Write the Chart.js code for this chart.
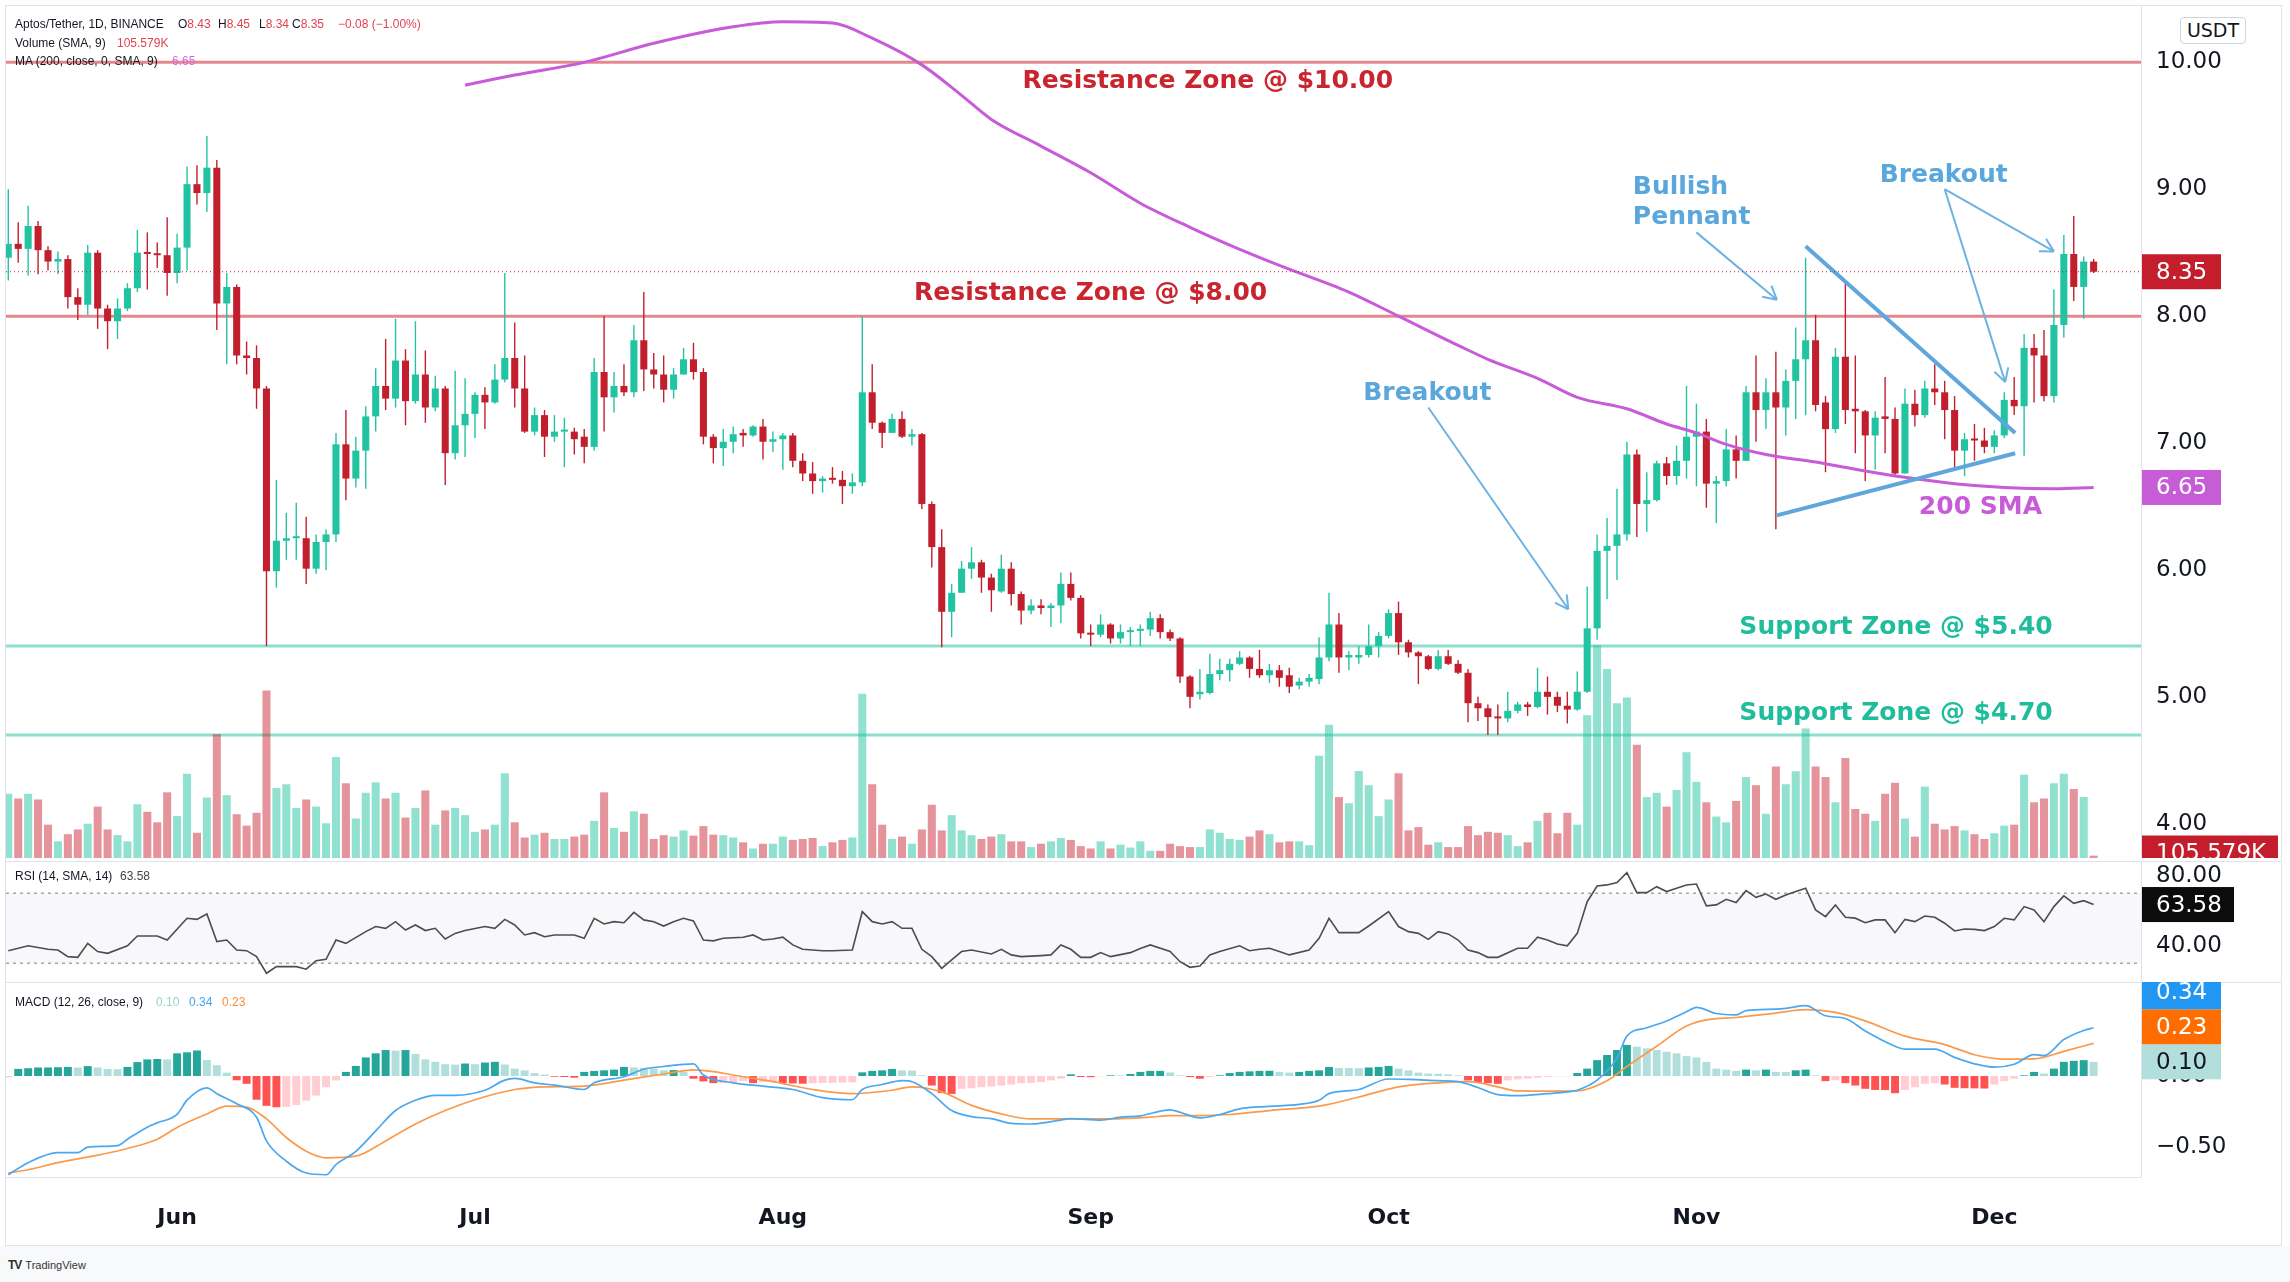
<!DOCTYPE html>
<html>
<head>
<meta charset="utf-8">
<script src="https://cdn.jsdelivr.net/npm/chart.js@4.4.0/dist/chart.umd.min.js"></script>
<style>
  html, body { margin: 0; padding: 0; background: #fff; }
  body { width: 2290px; height: 1282px; position: relative; overflow: hidden; font-family: "Liberation Sans", Arial, sans-serif; color: #131722; }
  .frame { position: absolute; left: 5px; top: 5px; width: 2277px; height: 1241px; border: 1px solid #e0e3eb; box-sizing: border-box; }
  canvas { position: absolute; left: 6px; }
  #price { top: 6px; }
  #rsi { top: 862px; }
  #macd { top: 982px; }
  .sep { position: absolute; left: 6px; width: 2275px; height: 1px; background: #e0e3eb; }
  .t { position: absolute; font-size: 12px; line-height: 14px; white-space: pre; }
  .dn { color: #e2434f; }
  .usdt { position: absolute; left: 2180px; top: 17px; width: 64px; height: 25px; border: 1px solid #d1d4dc; border-radius: 4px; background: #fff; font: 19px "DejaVu Sans", sans-serif; text-align: center; line-height: 25px; }
  .foot { position: absolute; left: 0; top: 1246px; width: 2290px; height: 36px; background: #f8f9fb; }
  .logo { position: absolute; left: 8px; top: 1258px; font-size: 11px; color: #333; }
  .logo b { font-size: 12px; letter-spacing: -1px; margin-right: 4px; }
</style>
</head>
<body>
<div class="frame"></div>
<canvas id="price" width="2275" height="852"></canvas>
<div class="sep" style="top:861px"></div>
<canvas id="rsi" width="2275" height="120"></canvas>
<div class="sep" style="top:982px"></div>
<canvas id="macd" width="2275" height="263"></canvas>
<div class="foot"></div>
<div class="logo"><b>TV</b>TradingView</div>

<div class="t" style="left:15px;top:17px">Aptos/Tether, 1D, BINANCE</div>
<div class="t" style="left:178px;top:17px">O<span class="dn">8.43</span></div>
<div class="t" style="left:218px;top:17px">H<span class="dn">8.45</span></div>
<div class="t" style="left:259px;top:17px">L<span class="dn">8.34</span></div>
<div class="t" style="left:292px;top:17px">C<span class="dn">8.35</span></div>
<div class="t dn" style="left:338px;top:17px">−0.08 (−1.00%)</div>
<div class="t" style="left:15px;top:36px">Volume (SMA, 9)</div>
<div class="t dn" style="left:117px;top:36px">105.579K</div>
<div class="t" style="left:15px;top:54px">MA (200, close, 0, SMA, 9)</div>
<div class="t" style="left:172px;top:54px;color:#d169e0">6.65</div>
<div class="usdt">USDT</div>
<div class="t" style="left:15px;top:869px">RSI (14, SMA, 14)</div>
<div class="t" style="left:120px;top:869px;color:#444">63.58</div>
<div class="t" style="left:15px;top:995px">MACD (12, 26, close, 9)</div>
<div class="t" style="left:156px;top:995px;color:#8fd8cb">0.10</div>
<div class="t" style="left:189px;top:995px;color:#42a5f5">0.34</div>
<div class="t" style="left:222px;top:995px;color:#ff8a3d">0.23</div>

<script>
// APT/USDT daily, 15 May -> 11 Dec
const monthLabels = ['Jun', 'Jul', 'Aug', 'Sep', 'Oct', 'Nov', 'Dec'];
const monthIdx = [17, 47, 78, 109, 139, 170, 200];

const open = [8.46,8.57,8.53,8.71,8.52,8.43,8.45,8.15,8.09,8.50,
  8.06,7.96,8.06,8.22,8.50,8.49,8.48,8.34,8.54,9.04,
  8.97,9.17,8.10,8.23,7.69,7.67,7.43,5.99,6.23,6.25,
  6.25,6.01,6.22,6.28,6.99,6.72,6.94,7.21,7.45,7.35,
  7.65,7.33,7.54,7.28,7.43,6.92,7.14,7.23,7.38,7.32,
  7.50,7.67,7.43,7.09,7.22,7.05,7.09,7.09,7.05,6.97,
  7.56,7.36,7.45,7.40,7.81,7.58,7.54,7.42,7.54,7.66,
  7.56,7.05,6.96,7.01,7.08,7.06,7.13,7.01,7.03,7.06,
  6.86,6.76,6.70,6.72,6.71,6.66,6.69,7.40,7.16,7.08,
  7.19,7.05,7.07,6.52,6.18,5.67,5.82,6.01,6.06,5.94,
  5.83,6.01,5.81,5.68,5.72,5.70,5.72,5.89,5.78,5.50,
  5.49,5.57,5.46,5.51,5.52,5.53,5.62,5.51,5.46,5.16,
  5.02,5.03,5.18,5.21,5.26,5.31,5.22,5.17,5.21,5.17,
  5.09,5.12,5.14,5.31,5.57,5.31,5.31,5.33,5.40,5.48,
  5.66,5.43,5.35,5.32,5.22,5.32,5.26,5.19,4.95,4.91,
  4.84,4.83,4.89,4.94,4.92,5.04,5.00,4.93,4.90,5.04,
  5.54,6.15,6.19,6.28,6.91,6.52,6.55,6.84,6.74,6.86,
  7.05,7.09,6.68,6.70,6.95,6.86,7.40,7.26,7.40,7.28,
  7.49,7.66,7.81,7.32,7.11,7.68,7.27,7.25,7.06,7.21,
  7.19,6.76,7.31,7.22,7.43,7.40,7.26,6.94,7.03,7.02,
  6.97,7.06,7.34,7.29,7.75,7.69,7.37,7.93,8.49,8.23,
  8.43];
const high = [9.00,8.74,8.87,8.75,8.55,8.51,8.48,8.22,8.56,8.52,
  8.09,8.14,8.26,8.68,8.66,8.58,8.78,8.65,9.18,9.19,
  9.42,9.23,8.34,8.25,7.80,7.77,7.45,6.71,6.45,6.53,
  6.42,6.28,6.32,7.08,7.26,7.05,7.29,7.59,7.82,7.98,
  7.74,7.96,7.73,7.53,7.45,7.57,7.51,7.40,7.44,7.62,
  8.34,7.95,7.69,7.28,7.26,7.22,7.20,7.12,7.11,7.67,
  8.00,7.56,7.62,7.93,8.19,7.71,7.69,7.59,7.75,7.79,
  7.59,7.07,7.11,7.13,7.11,7.14,7.19,7.09,7.08,7.08,
  6.92,6.85,6.74,6.81,6.78,6.76,8.00,7.62,7.17,7.23,
  7.25,7.11,7.08,6.54,6.32,5.89,6.07,6.18,6.08,5.97,
  6.12,6.06,5.83,5.77,5.77,5.74,5.98,5.98,5.80,5.57,
  5.65,5.58,5.57,5.55,5.57,5.67,5.65,5.53,5.47,5.17,
  5.22,5.34,5.30,5.30,5.36,5.32,5.37,5.26,5.25,5.23,
  5.15,5.18,5.47,5.82,5.66,5.36,5.40,5.57,5.51,5.69,
  5.75,5.45,5.36,5.33,5.37,5.37,5.29,5.22,5.00,4.94,
  4.94,5.04,4.96,4.96,5.23,5.16,5.04,5.04,5.20,5.87,
  6.28,6.41,6.64,7.01,6.95,6.77,6.86,6.89,6.98,7.45,
  7.31,7.19,6.74,7.11,7.06,7.45,7.69,7.51,7.72,7.58,
  7.91,8.46,8.01,7.37,7.75,8.26,7.69,7.26,7.25,7.52,
  7.28,7.43,7.42,7.49,7.62,7.49,7.37,7.08,7.15,7.12,
  7.10,7.40,7.52,7.86,7.86,7.89,8.21,8.64,8.79,8.47,
  8.45];
const low = [8.28,8.42,8.32,8.33,8.36,8.33,8.06,7.97,8.01,7.90,
  7.74,7.82,8.04,8.19,8.21,8.38,8.16,8.26,8.36,8.88,
  8.82,7.89,7.62,7.62,7.54,7.27,5.40,5.86,6.08,6.08,
  5.89,5.97,6.00,6.22,6.55,6.65,6.64,7.09,7.26,7.28,
  7.14,7.31,7.16,7.25,6.67,6.87,6.89,7.04,7.11,7.31,
  7.48,7.28,7.08,7.06,6.89,7.01,6.81,6.91,6.84,6.94,
  7.09,7.24,7.37,7.36,7.41,7.43,7.32,7.35,7.54,7.50,
  6.99,6.84,6.82,6.92,6.97,7.05,6.87,6.93,6.79,6.81,
  6.70,6.60,6.61,6.68,6.52,6.60,6.66,7.11,6.96,7.08,
  7.04,6.98,6.48,6.02,5.39,5.47,5.82,5.93,5.82,5.67,
  5.82,5.72,5.57,5.65,5.65,5.55,5.58,5.76,5.46,5.40,
  5.47,5.42,5.42,5.40,5.40,5.48,5.46,5.44,5.11,4.91,
  4.98,5.02,5.13,5.12,5.25,5.15,5.15,5.11,5.08,5.03,
  5.06,5.08,5.10,5.28,5.19,5.21,5.26,5.31,5.31,5.46,
  5.33,5.31,5.10,5.21,5.21,5.25,5.18,4.80,4.81,4.70,
  4.70,4.80,4.87,4.85,4.91,4.86,4.88,4.79,4.89,5.03,
  5.45,5.77,5.92,6.23,6.26,6.30,6.54,6.67,6.67,6.72,
  6.66,6.49,6.37,6.66,6.72,6.86,7.01,7.11,6.32,7.06,
  7.19,7.22,7.25,6.77,7.08,7.15,6.92,6.70,6.79,6.92,
  6.74,6.76,7.13,7.20,7.30,7.03,6.81,6.74,6.86,6.92,
  6.92,7.04,7.22,6.90,7.32,7.33,7.32,7.83,8.12,7.98,
  8.34];
const close = [8.57,8.53,8.71,8.52,8.43,8.45,8.15,8.09,8.50,8.06,
  7.96,8.06,8.22,8.50,8.49,8.48,8.34,8.54,9.04,8.97,
  9.17,8.10,8.23,7.69,7.67,7.43,5.99,6.23,6.25,6.26,
  6.01,6.22,6.28,6.99,6.72,6.94,7.21,7.45,7.35,7.65,
  7.33,7.54,7.28,7.43,6.92,7.14,7.23,7.38,7.32,7.50,
  7.67,7.43,7.09,7.22,7.05,7.09,7.09,7.03,6.97,7.56,
  7.36,7.45,7.40,7.81,7.58,7.54,7.42,7.54,7.66,7.56,
  7.05,6.96,7.01,7.07,7.06,7.13,7.01,7.03,7.06,6.86,
  6.76,6.70,6.72,6.71,6.66,6.69,7.40,7.16,7.08,7.19,
  7.05,7.07,6.52,6.18,5.67,5.82,6.01,6.06,5.94,5.84,
  6.01,5.81,5.68,5.72,5.70,5.72,5.89,5.78,5.50,5.49,
  5.57,5.46,5.51,5.52,5.53,5.62,5.51,5.46,5.16,5.00,
  5.04,5.18,5.21,5.26,5.31,5.22,5.17,5.21,5.15,5.08,
  5.12,5.15,5.31,5.57,5.31,5.33,5.33,5.40,5.48,5.66,
  5.43,5.35,5.32,5.22,5.32,5.26,5.19,4.95,4.91,4.84,
  4.83,4.89,4.94,4.92,5.04,5.00,4.93,4.90,5.04,5.54,
  6.15,6.19,6.28,6.91,6.52,6.55,6.84,6.74,6.86,7.05,
  7.09,6.68,6.70,6.95,6.86,7.40,7.26,7.40,7.28,7.49,
  7.66,7.81,7.30,7.11,7.68,7.26,7.25,7.06,7.20,7.19,
  6.76,7.31,7.22,7.43,7.40,7.26,6.94,7.03,7.02,6.97,
  7.06,7.34,7.29,7.75,7.69,7.37,7.93,8.49,8.23,8.43,
  8.35];
const volume = [135,125,135,123,70,35,50,60,72,108,
  60,48,35,113,97,75,138,88,177,53,
  127,260,132,92,68,95,352,147,155,105,
  123,108,73,212,157,83,137,159,125,137,
  85,105,142,70,100,105,90,55,60,70,
  178,75,43,49,53,40,40,45,49,78,
  138,63,55,98,93,40,48,45,58,47,
  67,49,48,43,33,20,30,30,45,38,
  40,42,25,33,38,43,345,155,70,40,
  45,30,60,112,58,90,58,48,40,45,
  50,35,35,23,30,35,42,38,25,20,
  35,20,28,22,35,15,15,30,25,23,
  23,60,53,40,38,45,58,50,33,35,
  35,27,215,280,128,115,183,153,88,123,
  178,58,65,28,33,23,23,67,48,55,
  53,48,25,33,78,95,52,95,70,300,
  447,397,325,337,238,128,137,108,143,222,
  160,117,87,75,120,170,153,93,192,155,
  182,272,192,170,117,210,103,93,78,135,
  158,83,45,150,72,60,67,58,50,40,
  52,68,70,175,117,125,157,177,145,128,
  5];

// [day index, value]
const smaPoints = [[46,9.82],[51,9.90],[58,10.00],[65,10.15],[73,10.28],[78,10.32],[83,10.31],[87,10.19],
  [92,9.98],[96,9.74],[99,9.55],[104,9.34],[109,9.13],[114,8.89],[119,8.70],[123,8.56],[128,8.40],
  [135,8.19],[140,8.00],[146,7.77],[149,7.66],[154,7.51],[158,7.36],[163,7.27],[167,7.15],[170,7.08],
  [173,6.99],[177,6.91],[182,6.85],[187,6.78],[191,6.73],[196,6.68],[201,6.65],[206,6.64],[210,6.65]];

const rsiPoints = [[0,37.2],[2,40],[4,38],[5,37.6],[6,33.8],[7,33.4],[8,41.4],[9,36.7],[10,35.7],[12,40],
  [13,45.6],[15,45.6],[16,43.3],[18,55.7],[19,55.1],[20,58.2],[21,42.4],[22,43.3],[23,37.6],[24,37.2],
  [25,33.8],[26,24.3],[27,28.1],[29,28.1],[30,26.6],[31,31.5],[32,32.3],[33,43.3],[34,41.4],[36,48.1],
  [37,51],[38,50],[39,53.8],[40,49],[41,51.9],[42,48.7],[43,50],[44,43.9],[45,47.1],[46,48.7],
  [48,51],[49,50],[50,55.1],[51,51.9],[52,46.2],[53,47.5],[54,45.2],[55,46.2],[57,46.2],[58,44.3],
  [59,55.7],[60,52.5],[61,53.8],[62,53.2],[63,59.1],[64,54.8],[65,53.8],[66,51.3],[67,53.8],[68,55.7],
  [69,54.2],[70,43.3],[71,42.8],[72,44.3],[74,44.9],[75,46.2],[76,43.3],[77,43.9],[78,44.9],[79,40.5],
  [80,38],[82,37.2],[83,37.2],[85,37.6],[86,59.5],[87,53.8],[88,52.5],[89,53.8],[90,50],[91,50],
  [92,38],[93,33.8],[94,27.1],[95,31.9],[96,36.7],[97,37.6],[99,35.3],[100,38],[101,34.8],[102,33.8],
  [104,34.4],[105,34.8],[106,40.5],[107,38],[108,33.4],[109,33.4],[110,36.1],[111,33.8],[113,36.1],[114,38.5],
  [115,40.5],[117,36.7],[118,30.9],[119,27.7],[120,28.4],[121,34.8],[122,36.7],[124,40],[125,37.2],[126,38],
  [127,38.6],[128,36.7],[129,34.8],[131,37.6],[132,44.3],[133,55.7],[134,47.5],[136,47.5],[137,51.3],[139,59.5],
  [140,51],[141,48.1],[142,47.1],[143,43.7],[144,48.1],[145,46.8],[146,43.3],[147,37.6],[148,36.1],[149,33.4],
  [150,33.4],[152,38.6],[153,38.6],[154,44.9],[155,43.3],[156,41],[157,40],[158,47.1],[159,65.2],[160,74.2],
  [161,74.8],[162,76.1],[163,81.8],[164,70.4],[165,70.4],[166,73.8],[167,71],[168,72.9],[169,74.8],[170,75.3],
  [171,62.8],[172,63.4],[173,66.6],[174,64.7],[175,71.5],[176,67.7],[177,69.6],[178,66.6],[179,69],[180,71],
  [181,72.9],[182,60.5],[183,56.7],[184,63.3],[185,56.3],[186,55.8],[187,53.2],[188,54.8],[189,54.8],[190,47.5],
  [191,55.1],[192,53.8],[193,57],[194,56.3],[195,52.9],[196,48.5],[197,49.6],[198,49.4],[199,48.7],[200,51],
  [201,55.7],[202,54.8],[203,62.4],[204,60.5],[205,53.8],[206,62.4],[207,68.5],[208,64.3],[209,65.8],[210,63.58]];

const macdPoints = [[0,-0.695],[2,-0.61],[5,-0.54],[7,-0.54],[8,-0.50],[11,-0.49],[12,-0.445],[14,-0.36],
  [15,-0.33],[17,-0.27],[18,-0.17],[20,-0.083],[21,-0.124],[23,-0.195],[25,-0.29],[26,-0.457],[28,-0.60],
  [30,-0.683],[32,-0.695],[33,-0.624],[35,-0.53],[37,-0.386],[39,-0.243],[41,-0.171],[43,-0.136],[45,-0.136],
  [48,-0.10],[50,-0.029],[51,-0.017],[53,-0.048],[55,-0.064],[58,-0.095],[59,-0.048],[62,-0.005],[64,0.048],
  [66,0.067],[69,0.086],[70,0.007],[73,-0.048],[76,-0.071],[79,-0.095],[82,-0.152],[85,-0.167],[86,-0.095],
  [88,-0.06],[90,-0.033],[91,-0.04],[93,-0.124],[95,-0.243],[97,-0.286],[99,-0.30],[101,-0.333],[103,-0.338],
  [106,-0.31],[107,-0.30],[110,-0.31],[112,-0.29],[114,-0.28],[117,-0.238],[118,-0.255],[120,-0.295],
  [122,-0.271],[124,-0.231],[127,-0.214],[130,-0.20],[132,-0.171],[133,-0.124],[136,-0.095],[139,-0.021],
  [141,-0.024],[144,-0.033],[146,-0.04],[148,-0.081],[150,-0.131],[152,-0.138],[155,-0.124],[157,-0.112],
  [158,-0.10],[160,-0.029],[162,0.126],[163,0.281],[165,0.34],[167,0.388],[169,0.452],[170,0.483],[172,0.44],
  [174,0.431],[175,0.46],[178,0.471],[179,0.476],[181,0.495],[183,0.424],[185,0.405],[187,0.317],[190,0.21],
  [191,0.19],[194,0.19],[196,0.131],[198,0.086],[200,0.062],[202,0.083],[204,0.15],[205,0.143],[207,0.257],
  [209,0.321],[210,0.34]];

const signalPoints = [[0,-0.683],[2,-0.66],[5,-0.61],[9,-0.557],[12,-0.51],[15,-0.445],[17,-0.362],[20,-0.267],
  [22,-0.212],[24,-0.219],[26,-0.302],[28,-0.433],[30,-0.529],[32,-0.576],[35,-0.564],[38,-0.457],[41,-0.338],
  [44,-0.243],[47,-0.167],[51,-0.095],[54,-0.076],[58,-0.071],[62,-0.029],[66,0.014],[69,0.043],[71,0.031],
  [73,0.007],[77,-0.04],[81,-0.095],[85,-0.124],[89,-0.10],[91,-0.076],[94,-0.112],[97,-0.207],[100,-0.267],
  [103,-0.302],[107,-0.302],[111,-0.302],[115,-0.29],[117,-0.279],[120,-0.279],[123,-0.271],[127,-0.243],
  [132,-0.212],[136,-0.148],[140,-0.076],[144,-0.048],[147,-0.04],[150,-0.076],[152,-0.105],[155,-0.107],
  [158,-0.105],[161,-0.033],[163,0.067],[166,0.21],[169,0.352],[171,0.395],[174,0.412],[178,0.443],[181,0.467],
  [184,0.448],[187,0.388],[191,0.281],[195,0.221],[198,0.15],[201,0.119],[204,0.121],[207,0.174],[210,0.23]];

const histogram = [-0.01,0.05,0.055,0.06,0.06,0.062,0.064,0.06,0.07,0.06,
  0.05,0.048,0.064,0.098,0.117,0.12,0.117,0.16,0.167,0.18,
  0.112,0.076,0.024,-0.03,-0.055,-0.167,-0.21,-0.22,-0.217,-0.205,
  -0.174,-0.138,-0.079,-0.031,0.029,0.071,0.131,0.16,0.183,0.179,
  0.183,0.155,0.117,0.10,0.083,0.08,0.088,0.083,0.095,0.10,
  0.081,0.052,0.04,0.021,0.01,-0.005,-0.007,-0.012,0.029,0.036,
  0.04,0.045,0.064,0.06,0.058,0.052,0.04,0.042,0.029,-0.019,
  -0.038,-0.05,-0.048,-0.043,-0.036,-0.05,-0.043,-0.038,-0.05,-0.052,
  -0.054,-0.05,-0.048,-0.048,-0.046,-0.044,0.026,0.036,0.04,0.05,
  0.04,0.038,0.005,-0.067,-0.12,-0.126,-0.09,-0.086,-0.079,-0.074,
  -0.067,-0.06,-0.05,-0.048,-0.043,-0.031,-0.019,0.012,-0.007,-0.008,
  -0.002,0.005,0.004,0.014,0.029,0.036,0.036,0.025,0.005,-0.007,
  -0.019,-0.007,0.005,0.021,0.029,0.033,0.036,0.037,0.029,0.024,
  0.029,0.036,0.04,0.064,0.057,0.056,0.055,0.06,0.064,0.071,
  0.052,0.04,0.024,0.017,0.016,0.012,0.005,-0.031,-0.043,-0.05,
  -0.055,-0.031,-0.024,-0.019,-0.012,-0.007,-0.003,-0.002,0.021,0.052,
  0.112,0.148,0.183,0.219,0.207,0.195,0.183,0.171,0.16,0.14,
  0.131,0.10,0.052,0.045,0.036,0.045,0.04,0.045,0.029,0.028,
  0.04,0.045,0.005,-0.036,-0.03,-0.05,-0.067,-0.09,-0.098,-0.099,
  -0.121,-0.098,-0.079,-0.055,-0.05,-0.06,-0.083,-0.086,-0.087,-0.088,
  -0.06,-0.036,-0.019,0.005,0.029,0.017,0.052,0.10,0.107,0.112,
  0.10];

const resistanceLevels = [10, 8];
const supportLevels = [5.4, 4.7];
const pennantUpper = [[181.0, 8.55], [202.1, 7.08]];
const pennantLower = [[178.1, 6.43], [202.1, 6.92]];
const arrowLines = [
  [[143.0, 7.28], [157.1, 5.69]],
  [[170.0, 8.66], [178.1, 8.13]],
  [[195.0, 9.00], [201.1, 7.48]],
  [[195.0, 9.00], [206.0, 8.51]]
];

const priceTicks = [4, 5, 6, 7, 8, 9, 10];
const rsiTicks = [40, 80];
const macdTicks = [-0.5, 0];
const volumeSmaText = '105.579K';

const GREEN = '#22c3a1';
const RED = '#c11f2d';
const VOL_GREEN = 'rgba(34,196,160,0.5)';
const VOL_RED = 'rgba(200,31,45,0.48)';
const RES_LINE = 'rgba(204,40,50,0.55)';
const SUP_LINE = 'rgba(34,192,160,0.52)';
const RES_TEXT = '#c9252f';
const SUP_TEXT = '#20bd9c';
const BLUE_TEXT = '#5aa7dd';
const SMA_COLOR = '#c75bd8';
const AXIS_FONT = { family: 'DejaVu Sans', size: 23 };
const NOTE_FONT = 'bold 25px "DejaVu Sans"';

const notes = [
  { text: 'Resistance Zone @ $10.00', x: 120.8, y: 9.846, color: RES_TEXT },
  { text: 'Resistance Zone @ $8.00', x: 109.0, y: 8.175, color: RES_TEXT },
  { text: 'Breakout', x: 142.9, y: 7.387, color: BLUE_TEXT },
  { text: 'Bullish', x: 163.6, y: 9.010, color: BLUE_TEXT, align: 'left' },
  { text: 'Pennant', x: 163.6, y: 8.774, color: BLUE_TEXT, align: 'left' },
  { text: 'Breakout', x: 194.9, y: 9.111, color: BLUE_TEXT },
  { text: '200 SMA', x: 198.6, y: 6.489, color: SMA_COLOR },
  { text: 'Support Zone @ $5.40', x: 190.1, y: 5.543, color: SUP_TEXT },
  { text: 'Support Zone @ $4.70', x: 190.1, y: 4.866, color: SUP_TEXT }
];

const idx = open.map((_, i) => i);
const isUp = idx.map(i => close[i] >= open[i]);
const candleColors = idx.map(i => isUp[i] ? GREEN : RED);
const toXY = pts => pts.map(([x, y]) => ({ x, y }));
const fmt = v => (v < 0 ? '−' : '') + Math.abs(v).toFixed(2);

const xScale = { type: 'linear', min: -0.23, max: 214.77, offset: false, display: false, ticks: { display: false } };

// keep the plot area flush with the canvas: no room reserved for half tick labels
function fitAxis(scale) {
  scale.width = 140;
  scale.paddingTop = 0;
  scale.paddingBottom = 0;
}

function rightAxis(min, max, ticks) {
  return {
    position: 'right', min, max,
    afterFit: fitAxis,
    afterBuildTicks: s => { s.ticks = ticks.map(v => ({ value: v })); },
    grid: { display: false, drawTicks: false },
    border: { display: true, color: '#e0e3eb' },
    ticks: { color: '#131722', font: AXIS_FONT, padding: 15, callback: v => fmt(v) }
  };
}

function axisBox(ctx, area, y, text, bg, fg, w) {
  ctx.fillStyle = bg;
  ctx.fillRect(area.right + 1, y - 17.5, w, 35);
  ctx.fillStyle = fg;
  ctx.font = '23px "DejaVu Sans"';
  ctx.textAlign = 'left';
  ctx.textBaseline = 'middle';
  ctx.fillText(text, area.right + 15, y + 1);
}

function hline(ctx, area, y, color, width, dash) {
  ctx.strokeStyle = color;
  ctx.lineWidth = width;
  ctx.setLineDash(dash || []);
  ctx.beginPath();
  ctx.moveTo(area.left, y);
  ctx.lineTo(area.right, y);
  ctx.stroke();
  ctx.setLineDash([]);
}

const priceDecor = {
  id: 'priceDecor',
  beforeDatasetsDraw(chart) {
    const { ctx, chartArea, scales } = chart;
    ctx.save();
    resistanceLevels.forEach(v => hline(ctx, chartArea, scales.y.getPixelForValue(v), RES_LINE, 3));
    supportLevels.forEach(v => hline(ctx, chartArea, scales.y.getPixelForValue(v), SUP_LINE, 3));
    ctx.restore();
  },
  afterDatasetsDraw(chart) {
    const { ctx, chartArea, scales: { x, y } } = chart;
    ctx.save();
    hline(ctx, chartArea, y.getPixelForValue(close[close.length - 1]), RED, 1, [1, 3]);

    // open arrow heads at the end of each pointer line
    ctx.strokeStyle = '#6cb2e2';
    ctx.lineWidth = 2;
    arrowLines.forEach(([a, b]) => {
      const x0 = x.getPixelForValue(a[0]), y0 = y.getPixelForValue(a[1]);
      const x1 = x.getPixelForValue(b[0]), y1 = y.getPixelForValue(b[1]);
      const ang = Math.atan2(y1 - y0, x1 - x0);
      ctx.beginPath();
      [-0.5, 0.5].forEach(d => {
        ctx.moveTo(x1, y1);
        ctx.lineTo(x1 - 15 * Math.cos(ang + d), y1 - 15 * Math.sin(ang + d));
      });
      ctx.stroke();
    });

    ctx.font = NOTE_FONT;
    ctx.textBaseline = 'middle';
    notes.forEach(n => {
      ctx.fillStyle = n.color;
      ctx.textAlign = n.align || 'center';
      ctx.fillText(n.text, x.getPixelForValue(n.x), y.getPixelForValue(n.y));
    });
    ctx.restore();
  },
  afterDraw(chart) {
    const { ctx, chartArea, scales: { y } } = chart;
    ctx.save();
    axisBox(ctx, chartArea, y.getPixelForValue(close[close.length - 1]), close[close.length - 1].toFixed(2), '#c41e2d', '#fff', 79);
    axisBox(ctx, chartArea, y.getPixelForValue(smaPoints[smaPoints.length - 1][1]), smaPoints[smaPoints.length - 1][1].toFixed(2), '#c65dd7', '#fff', 79);
    axisBox(ctx, chartArea, chartArea.bottom - 5, volumeSmaText, '#c41e2d', '#fff', 136);
    ctx.restore();
  }
};

const baseOptions = {
  responsive: false, animation: false, events: [],
  layout: { padding: 0, autoPadding: false },
  plugins: { legend: { display: false }, tooltip: { enabled: false } }
};

new Chart(document.getElementById('price'), {
  type: 'bar',
  data: {
    datasets: [
      { type: 'bar', label: 'Volume', yAxisID: 'yVol', data: idx.map(i => ({ x: i, y: volume[i] })),
        backgroundColor: idx.map(i => isUp[i] ? VOL_GREEN : VOL_RED), grouped: false,
        categoryPercentage: 1, barPercentage: 0.81, order: 6 },
      { type: 'bar', label: 'Wick', data: idx.map(i => ({ x: i, y: [low[i], high[i]] })),
        backgroundColor: candleColors, grouped: false, categoryPercentage: 1, barPercentage: 0.14, order: 5 },
      { type: 'bar', label: 'Body', data: idx.map(i => ({ x: i, y: [open[i], close[i]] })),
        backgroundColor: candleColors, grouped: false, categoryPercentage: 1, barPercentage: 0.71,
        minBarLength: 2, order: 4 },
      { type: 'line', label: 'MA 200', data: toXY(smaPoints), borderColor: SMA_COLOR, borderWidth: 3,
        pointRadius: 0, cubicInterpolationMode: 'monotone', order: 3 },
      { type: 'line', label: 'Pennant top', data: toXY(pennantUpper), borderColor: '#5ea6dc', borderWidth: 4,
        pointRadius: 0, order: 2 },
      { type: 'line', label: 'Pennant bottom', data: toXY(pennantLower), borderColor: '#5ea6dc', borderWidth: 4,
        pointRadius: 0, order: 2 },
      ...arrowLines.map((pts, k) => ({
        type: 'line', label: 'Arrow ' + k, data: toXY(pts), borderColor: '#6cb2e2', borderWidth: 2,
        pointRadius: 0, order: 1
      }))
    ]
  },
  options: {
    ...baseOptions,
    scales: {
      x: xScale,
      y: rightAxis(3.73, 10.444, priceTicks),
      yVol: { display: false, min: 0, max: 1790, ticks: { display: false } }
    }
  },
  plugins: [priceDecor]
});

const rsiDecor = {
  id: 'rsiDecor',
  beforeDatasetsDraw(chart) {
    const { ctx, chartArea, scales: { y } } = chart;
    ctx.save();
    ctx.fillStyle = '#f8f8fa';
    ctx.fillRect(chartArea.left, y.getPixelForValue(70), chartArea.width, y.getPixelForValue(30) - y.getPixelForValue(70));
    hline(ctx, chartArea, y.getPixelForValue(70), '#a3a6af', 1.5, [3, 4]);
    hline(ctx, chartArea, y.getPixelForValue(30), '#a3a6af', 1.5, [3, 4]);
    ctx.restore();
  },
  afterDraw(chart) {
    const { ctx, chartArea, scales: { y } } = chart;
    const last = rsiPoints[rsiPoints.length - 1][1];
    ctx.save();
    axisBox(ctx, chartArea, y.getPixelForValue(last), last.toFixed(2), '#0c0c0c', '#fff', 92);
    ctx.restore();
  }
};

new Chart(document.getElementById('rsi'), {
  type: 'line',
  data: {
    datasets: [{ label: 'RSI', data: toXY(rsiPoints), borderColor: '#4d4d4d', borderWidth: 1.6, pointRadius: 0 }]
  },
  options: {
    ...baseOptions,
    scales: { x: xScale, y: rightAxis(19.3, 87.9, rsiTicks) }
  },
  plugins: [rsiDecor]
});

const histColors = histogram.map((v, i) => {
  const prev = i > 0 ? histogram[i - 1] : v;
  if (v >= 0) return v >= prev ? '#26a69a' : '#b2dfdb';
  return v < prev ? '#ff5252' : '#ffcdd2';
});

const macdDecor = {
  id: 'macdDecor',
  afterDraw(chart) {
    const { ctx, chartArea, scales: { y } } = chart;
    const h = histogram[histogram.length - 1];
    const s = signalPoints[signalPoints.length - 1][1];
    const m = macdPoints[macdPoints.length - 1][1];
    const base = y.getPixelForValue(h);
    ctx.save();
    ctx.beginPath();
    ctx.rect(0, chartArea.top, chart.width, chartArea.height);
    ctx.clip();
    axisBox(ctx, chartArea, base, h.toFixed(2), '#b2dfdb', '#131722', 79);
    axisBox(ctx, chartArea, base - 35, s.toFixed(2), '#ff6d00', '#fff', 79);
    axisBox(ctx, chartArea, base - 70, m.toFixed(2), '#2196f3', '#fff', 79);
    ctx.restore();
  }
};

new Chart(document.getElementById('macd'), {
  type: 'bar',
  data: {
    datasets: [
      { type: 'bar', label: 'Histogram', data: idx.map(i => ({ x: i, y: histogram[i] })),
        backgroundColor: histColors, grouped: false, categoryPercentage: 1, barPercentage: 0.8, order: 3 },
      { type: 'line', label: 'MACD', data: toXY(macdPoints), borderColor: '#4aa8f0', borderWidth: 1.7,
        pointRadius: 0, cubicInterpolationMode: 'monotone', order: 1 },
      { type: 'line', label: 'Signal', data: toXY(signalPoints), borderColor: '#f99a4c', borderWidth: 1.7,
        pointRadius: 0, cubicInterpolationMode: 'monotone', order: 2 }
    ]
  },
  options: {
    ...baseOptions,
    scales: {
      x: {
        type: 'linear', min: -0.23, max: 214.77, offset: false, position: 'bottom',
        afterFit: s => { s.height = 68; s.paddingLeft = 0; s.paddingRight = 0; },
        afterBuildTicks: s => { s.ticks = monthIdx.map(v => ({ value: v })); },
        grid: { display: false, drawTicks: false },
        border: { display: true, color: '#e0e3eb' },
        ticks: {
          autoSkip: false, maxRotation: 0, padding: 28, color: '#131722',
          font: { family: 'DejaVu Sans', size: 22, weight: 'bold' },
          callback: v => monthLabels[monthIdx.indexOf(v)]
        }
      },
      y: rightAxis(-0.711, 0.662, macdTicks)
    }
  },
  plugins: [macdDecor]
});
</script>
</body>
</html>
